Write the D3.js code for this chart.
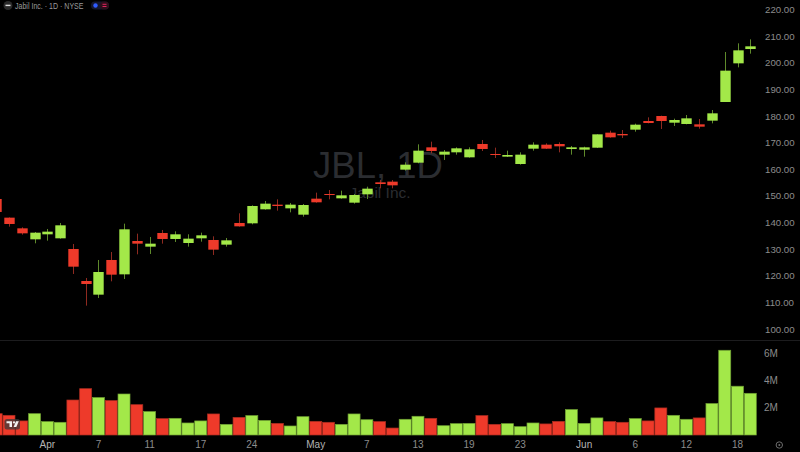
<!DOCTYPE html>
<html><head><meta charset="utf-8">
<script src="https://cdn.jsdelivr.net/npm/d3@7/dist/d3.min.js"></script>
<style>html,body{margin:0;padding:0;background:#000;overflow:hidden}svg{display:block}text{font-family:"Liberation Sans",Arial,sans-serif}</style>
</head><body><svg id="c" width="800" height="452"></svg>
<script>
const opens=[148.83,141.82,137.81,133.68,135.56,134.06,130.05,118.03,112.90,125.92,120.53,133.05,130.93,136.06,133.81,132.30,134.06,133.43,131.68,139.82,139.69,144.95,146.70,145.32,142.94,148.95,150.70,149.08,147.45,150.58,155.09,155.34,159.85,162.47,168.23,165.48,166.36,164.48,169.49,165.73,164.73,161.97,167.73,169.23,169.48,167.60,167.35,168.10,173.74,173.24,174.87,178.12,180.00,177.49,177.00,176.87,178.25,185.26,199.78,205.16];
const closes=[143.95,139.44,135.93,136.18,136.56,138.94,123.41,116.90,121.41,120.41,137.44,132.05,132.05,133.81,135.56,133.93,135.18,129.80,133.30,138.56,146.20,147.08,146.20,146.70,146.57,147.58,150.33,150.20,150.33,152.71,154.46,153.96,161.72,166.98,166.86,166.61,167.86,167.48,167.61,165.35,165.35,165.48,169.23,167.73,168.61,168.23,168.23,173.11,171.99,172.74,176.74,177.37,178.12,178.50,179.12,175.99,181.00,197.03,204.66,206.17];
const highs=[149.50,141.90,138.19,136.43,137.56,139.82,131.93,119.16,125.92,128.92,139.56,135.81,134.56,137.19,136.68,135.56,136.18,134.81,134.18,143.45,146.45,148.08,148.70,147.33,146.95,151.21,152.21,151.96,150.71,153.46,155.96,155.96,162.60,169.36,170.36,167.23,168.23,168.23,170.99,168.11,166.98,166.36,170.11,169.73,170.11,168.73,168.48,173.11,174.49,174.74,177.12,179.50,180.12,179.00,180.37,178.87,182.25,204.04,207.29,208.79];
const lows=[143.50,138.44,135.43,132.18,133.18,133.93,120.66,108.77,111.65,117.91,118.78,128.05,128.17,132.05,132.68,130.93,132.80,127.80,130.93,138.44,139.31,144.82,144.45,143.82,142.19,147.45,148.70,148.95,147.07,148.83,152.83,152.83,159.50,162.22,165.98,163.48,165.48,164.35,166.86,164.23,164.60,161.72,166.98,167.60,166.35,165.48,164.72,167.98,171.86,171.74,174.11,177.24,175.12,176.24,176.87,175.24,177.24,185.26,198.28,203.41];
const volumes=[1.56,1.44,1.03,1.56,0.98,0.93,2.56,3.39,2.74,2.52,3.00,2.22,1.71,1.20,1.22,0.88,1.03,1.54,0.78,1.29,1.42,1.07,0.85,0.66,1.34,1.00,0.93,0.78,1.54,1.12,0.98,0.51,1.15,1.37,1.22,0.68,0.83,0.85,1.42,0.78,0.83,0.61,0.88,0.81,1.00,1.86,0.85,1.25,0.98,0.93,1.20,1.03,1.98,1.44,1.15,1.25,2.30,6.20,3.57,3.05];
const priceTicks=[100,110,120,130,140,150,160,170,180,190,200,210,220];
const volumeTicks=[2,4,6];
const dateIndex=[4,8,12,16,20,25,29,33,37,41,46,50,54,58];
const dateLabels=["Apr","7","11","17","24","May","7","13","19","23","Jun","6","12","18"];
const monthLabels=["Apr","May","Jun"];
const title="Jabil Inc. · 1D · NYSE";
const watermark="JBL, 1D";
const watermarkSub="Jabil Inc.";

const GREEN="#a3e849",RED="#ee3a2a",GREENW="#5f8a2b",REDW="#8f2a20",AXIS="#8c8c8c";
const svg=d3.select("#c");
svg.append("rect").attr("width",800).attr("height",452).attr("fill","#000");

const x=d3.scaleLinear().domain([0,59]).range([-3.8,750.3]);
const y=d3.scaleLinear().domain([100,220]).range([329,9.5]);
const yv=d3.scaleLinear().domain([0,6]).range([435,353]);
const idx=d3.range(opens.length);
const up=i=>closes[i]>=opens[i];

// watermark
svg.append("text").attr("x",378).attr("y",178).attr("text-anchor","middle").attr("font-size",36.5).attr("fill","#2b2d31").text(watermark);
svg.append("text").attr("x",380).attr("y",198).attr("text-anchor","middle").attr("font-size",15.5).attr("fill","#2b2d31").text(watermarkSub);

// pane separator
svg.append("line").attr("x1",0).attr("x2",800).attr("y1",340.5).attr("y2",340.5).attr("stroke","#1c1c1e");

// candles
svg.append("g").selectAll("line").data(idx).join("line")
 .attr("x1",i=>Math.round(x(i))+.5).attr("x2",i=>Math.round(x(i))+.5)
 .attr("y1",i=>y(highs[i])).attr("y2",i=>y(lows[i]))
 .attr("stroke",i=>up(i)?GREENW:REDW).attr("stroke-width",1);
svg.append("g").selectAll("rect").data(idx).join("rect")
 .attr("x",i=>Math.round(x(i))-4.7).attr("width",10.4)
 .attr("y",i=>y(Math.max(opens[i],closes[i])))
 .attr("height",i=>Math.max(1,Math.abs(y(opens[i])-y(closes[i]))))
 .attr("fill",i=>up(i)?GREEN:RED);

// volume
svg.append("g").selectAll("rect").data(idx).join("rect")
 .attr("x",i=>x(i)-6).attr("width",12)
 .attr("y",i=>yv(volumes[i])).attr("height",i=>yv(0)-yv(volumes[i]))
 .attr("fill",i=>up(i)?GREEN:RED)
 .attr("stroke",i=>up(i)?"#6f9f33":"#a82c20").attr("stroke-width",.7);

// axes
const ay=svg.append("g").attr("transform","translate(762,0)")
 .call(d3.axisRight(y).tickValues(priceTicks).tickSize(0).tickPadding(3).tickFormat(d3.format(".2f")));
const av=svg.append("g").attr("transform","translate(761,0)")
 .call(d3.axisRight(yv).tickValues(volumeTicks).tickSize(0).tickPadding(3).tickFormat(d=>d+"M"));
const ax=svg.append("g").attr("transform","translate(0,438)")
 .call(d3.axisBottom(d3.scalePoint().domain(d3.range(dateLabels.length)).range([0,1])).tickSize(0).tickPadding(3).tickFormat(i=>dateLabels[i]));
ax.selectAll(".tick").attr("transform",i=>`translate(${x(dateIndex[i])},0)`);
[ay,av,ax].forEach(g=>{g.select(".domain").remove();g.selectAll("text").attr("fill",AXIS).attr("font-family",'"Liberation Sans",Arial,sans-serif');});
ay.selectAll("text").attr("font-size",9.7);
av.selectAll("text").attr("font-size",10);
ax.selectAll("text").attr("font-size",10).attr("fill",i=>monthLabels.includes(dateLabels[i])?"#b4b4b4":AXIS);

// header
svg.append("circle").attr("cx",8).attr("cy",5.5).attr("r",4.5).attr("fill","#2a2a2a");
svg.append("rect").attr("x",5.5).attr("y",4.7).attr("width",5).attr("height",1.4).attr("fill","#ddd");
svg.append("text").attr("x",15).attr("y",8.7).attr("font-size",8.3).attr("fill","#9a9a9a").attr("textLength",68.5).attr("lengthAdjust","spacingAndGlyphs").text(title);
svg.append("rect").attr("x",91).attr("y",1.5).attr("width",18).attr("height",8).attr("rx",4).attr("fill","#15172e");
svg.append("rect").attr("x",100).attr("y",1.5).attr("width",9).attr("height",8).attr("rx",4).attr("fill","#2e0f1b");
svg.append("circle").attr("cx",95.5).attr("cy",5.5).attr("r",2.2).attr("fill","#2f5bff");
svg.append("rect").attr("x",102.5).attr("y",3.8).attr("width",4).attr("height",1).attr("fill","#e0245e");
svg.append("rect").attr("x",102.5).attr("y",6).attr("width",4).attr("height",1).attr("fill","#e0245e");

// TV logo badge
svg.append("rect").attr("x",4.5).attr("y",419).attr("width",15.5).attr("height",10.5).attr("rx",2.5).attr("fill","#3a3a3a").attr("fill-opacity",.75);
svg.append("path").attr("d","M6.5 421.3H12V427H9.5V423.3H6.5Z M16 421.3H18.8L16.3 427H13.6Z").attr("fill","#f2f2f2");
svg.append("circle").attr("cx",14).attr("cy",422.4).attr("r",1.1).attr("fill","#f2f2f2");

// settings icon
svg.append("circle").attr("cx",779.3).attr("cy",445).attr("r",3.2).attr("fill","none").attr("stroke","#6e6e6e").attr("stroke-width",1);
svg.append("circle").attr("cx",779.3).attr("cy",445).attr("r",1).attr("fill","#6e6e6e");
</script></body></html>
